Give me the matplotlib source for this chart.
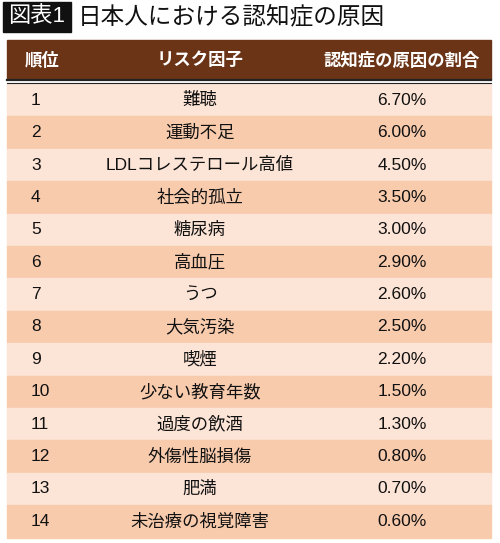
import matplotlib
matplotlib.use("Agg")
import matplotlib.pyplot as plt
from matplotlib.patches import Rectangle

plt.rcParams["font.family"] = ["Liberation Sans", "Noto Sans CJK JP", "DejaVu Sans"]

ranks = list(range(1, 15))
factors = ["難聴", "運動不足", "LDLコレステロール高値", "社会的孤立", "糖尿病", "高血圧", "うつ",
           "大気汚染", "喫煙", "少ない教育年数", "過度の飲酒", "外傷性脳損傷", "肥満", "未治療の視覚障害"]
shares = [6.70, 6.00, 4.50, 3.50, 3.00, 2.90, 2.60, 2.50, 2.20, 1.50, 1.30, 0.80, 0.70, 0.60]
headers = ["順位", "リスク因子", "認知症の原因の割合"]

W, H = 500, 543
fig = plt.figure(figsize=(W / 100, H / 100), dpi=100)
ax = fig.add_axes([0, 0, 1, 1])
ax.set_xlim(0, W); ax.set_ylim(H, 0); ax.axis("off")

# title
ax.add_patch(Rectangle((3, 2), 68, 30, color="#111111"))
ax.text(37, 17, "図表1", color="white", fontsize=16, ha="center", va="center")
ax.text(78, 17, "日本人における認知症の原因", color="#111111", fontsize=17, ha="left", va="center")

# header
x0, x1 = 7, 491
ax.add_patch(Rectangle((x0, 40), x1 - x0, 39, color="#6B3417"))
ax.plot([x0, x1], [80, 80], color="#222222", lw=1.6)
ax.plot([x0, x1], [82.5, 82.5], color="#222222", lw=0.8)
hy = 60
ax.text(42, hy, headers[0], color="white", fontsize=12.5, fontweight="bold", ha="center", va="center")
ax.text(200, hy, headers[1], color="white", fontsize=12.5, fontweight="bold", ha="center", va="center")
ax.text(402, hy, headers[2], color="white", fontsize=12.5, fontweight="bold", ha="center", va="center")

top, rh = 84, 32.4
for i, (r, f, s) in enumerate(zip(ranks, factors, shares)):
    y = top + i * rh
    ax.add_patch(Rectangle((x0, y), x1 - x0, rh, color="#FCE4D6" if i % 2 == 0 else "#F8CBAD"))
    cy = y + rh / 2
    ax.text(31, cy, str(r), fontsize=12.5, ha="left", va="center", color="#111111")
    ax.text(200, cy, f, fontsize=12.5, ha="center", va="center", color="#111111")
    ax.text(402, cy, f"{s:.2f}%", fontsize=12.5, ha="center", va="center", color="#111111")

fig.savefig("out.png", dpi=100)
